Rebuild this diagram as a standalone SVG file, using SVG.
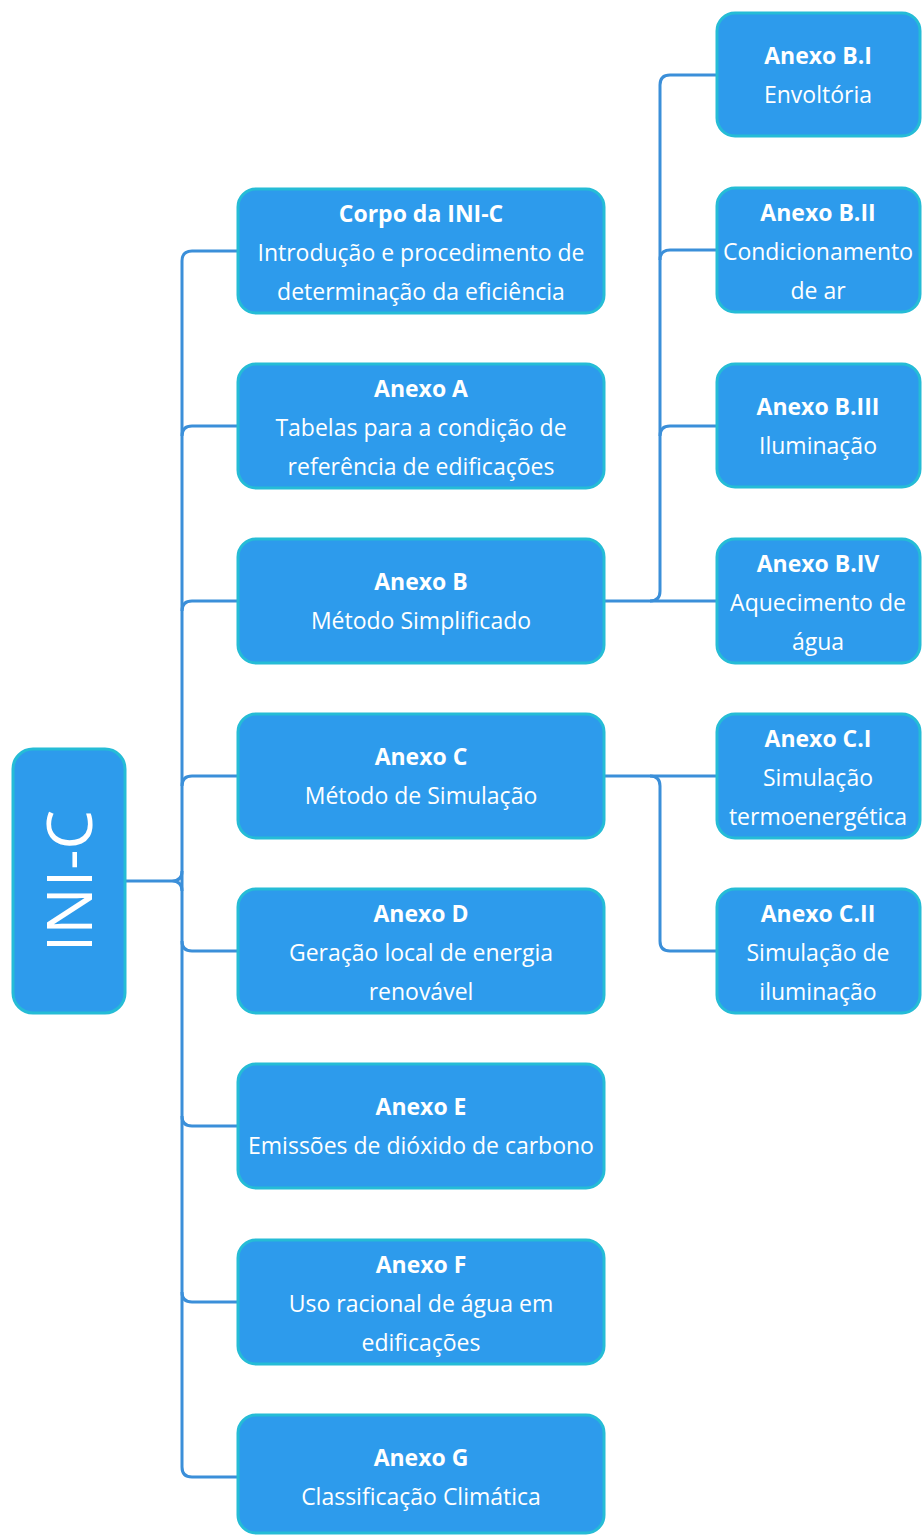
<svg xmlns="http://www.w3.org/2000/svg" width="922" height="1535" viewBox="0 0 922 1535">
<style>
.box{fill:#2d9bec;stroke:#25bcd6;stroke-width:3}
.t{font-family:"Open Sans","Noto Sans",sans-serif;font-size:23px;fill:#ffffff;text-anchor:middle}
.b{font-weight:bold}
.c{fill:none;stroke:#3b8fd9;stroke-width:3}
</style>
<rect width="922" height="1535" fill="#ffffff"/>
<g id="connectors">
<path class="c" d="M125 881 H172 Q182 881 182 871 M172 881 Q182 881 182 891"/>
<path class="c" d="M238 251 H192 Q182 251 182 261 V1467 Q182 1477 192 1477 H238"/>
<path class="c" d="M182 436 Q182 426 192 426 H238"/>
<path class="c" d="M182 611 Q182 601 192 601 H238"/>
<path class="c" d="M182 786 Q182 776 192 776 H238"/>
<path class="c" d="M182 941 Q182 951 192 951 H238"/>
<path class="c" d="M182 1116 Q182 1126 192 1126 H238"/>
<path class="c" d="M182 1292 Q182 1302 192 1302 H238"/>
<path class="c" d="M604 601 H717"/>
<path class="c" d="M717 75 H670 Q660 75 660 85 V591 Q660 601 650 601"/>
<path class="c" d="M660 260 Q660 250 670 250 H717"/>
<path class="c" d="M660 436 Q660 426 670 426 H717"/>
<path class="c" d="M604 776 H717"/>
<path class="c" d="M650 776 Q660 776 660 786 V941 Q660 951 670 951 H717"/>
</g>
<g id="ini-c">
<rect class="box" x="13" y="749" width="112" height="264" rx="20"/>
<text class="t" x="0" y="0" font-size="63" transform="translate(92 881) rotate(-90)" style="font-size:63px">INI-C</text>
</g>
<g id="corpo">
<rect class="box" x="238" y="189" width="366" height="124" rx="18"/>
<text class="t b" x="421" y="222">Corpo da INI-C</text>
<text class="t" x="421" y="261">Introdução e procedimento de</text>
<text class="t" x="421" y="300">determinação da eficiência</text>
</g>
<g id="anexo-a">
<rect class="box" x="238" y="364" width="366" height="124" rx="18"/>
<text class="t b" x="421" y="397">Anexo A</text>
<text class="t" x="421" y="436">Tabelas para a condição de</text>
<text class="t" x="421" y="475">referência de edificações</text>
</g>
<g id="anexo-b">
<rect class="box" x="238" y="539" width="366" height="124" rx="18"/>
<text class="t b" x="421" y="590">Anexo B</text>
<text class="t" x="421" y="629">Método Simplificado</text>
</g>
<g id="anexo-c">
<rect class="box" x="238" y="714" width="366" height="124" rx="18"/>
<text class="t b" x="421" y="765">Anexo C</text>
<text class="t" x="421" y="804">Método de Simulação</text>
</g>
<g id="anexo-d">
<rect class="box" x="238" y="889" width="366" height="124" rx="18"/>
<text class="t b" x="421" y="922">Anexo D</text>
<text class="t" x="421" y="961">Geração local de energia</text>
<text class="t" x="421" y="1000">renovável</text>
</g>
<g id="anexo-e">
<rect class="box" x="238" y="1064" width="366" height="124" rx="18"/>
<text class="t b" x="421" y="1115">Anexo E</text>
<text class="t" x="421" y="1154">Emissões de dióxido de carbono</text>
</g>
<g id="anexo-f">
<rect class="box" x="238" y="1240" width="366" height="124" rx="18"/>
<text class="t b" x="421" y="1273">Anexo F</text>
<text class="t" x="421" y="1312">Uso racional de água em</text>
<text class="t" x="421" y="1351">edificações</text>
</g>
<g id="anexo-g">
<rect class="box" x="238" y="1415" width="366" height="118" rx="18"/>
<text class="t b" x="421" y="1466">Anexo G</text>
<text class="t" x="421" y="1505">Classificação Climática</text>
</g>
<g id="anexo-b1">
<rect class="box" x="717" y="13" width="203" height="123" rx="18"/>
<text class="t b" x="818" y="64">Anexo B.I</text>
<text class="t" x="818" y="103">Envoltória</text>
</g>
<g id="anexo-b2">
<rect class="box" x="717" y="188" width="203" height="124" rx="18"/>
<text class="t b" x="818" y="221">Anexo B.II</text>
<text class="t" x="818" y="260">Condicionamento</text>
<text class="t" x="818" y="299">de ar</text>
</g>
<g id="anexo-b3">
<rect class="box" x="717" y="364" width="203" height="123" rx="18"/>
<text class="t b" x="818" y="415">Anexo B.III</text>
<text class="t" x="818" y="454">Iluminação</text>
</g>
<g id="anexo-b4">
<rect class="box" x="717" y="539" width="203" height="124" rx="18"/>
<text class="t b" x="818" y="572">Anexo B.IV</text>
<text class="t" x="818" y="611">Aquecimento de</text>
<text class="t" x="818" y="650">água</text>
</g>
<g id="anexo-c1">
<rect class="box" x="717" y="714" width="203" height="124" rx="18"/>
<text class="t b" x="818" y="747">Anexo C.I</text>
<text class="t" x="818" y="786">Simulação</text>
<text class="t" x="818" y="825">termoenergética</text>
</g>
<g id="anexo-c2">
<rect class="box" x="717" y="889" width="203" height="124" rx="18"/>
<text class="t b" x="818" y="922">Anexo C.II</text>
<text class="t" x="818" y="961">Simulação de</text>
<text class="t" x="818" y="1000">iluminação</text>
</g>
</svg>
